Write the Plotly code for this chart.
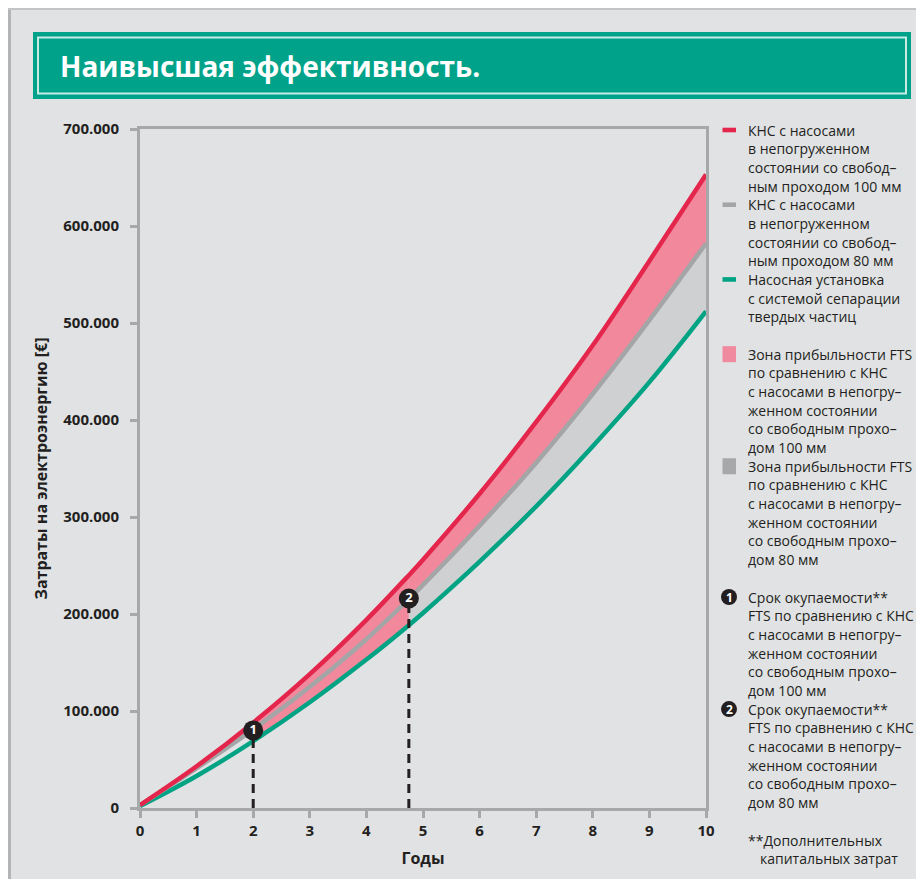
import plotly.graph_objects as go

# ---------------- data ----------------
years = [0, 1, 2, 3, 4, 4.75, 5, 6, 7, 8, 9, 10]
kns_100 = [3000, 43000, 88000, 138000, 194000, 240000, 256000, 324000, 398000, 477000, 564000, 653000]
kns_80 = [3000, 41000, 81000, 125000, 174000, 215500, 230000, 291000, 356000, 427000, 503000, 582000]
fts = [2000, 33000, 69000, 109000, 153000, 188500, 201000, 254000, 311000, 373000, 439000, 512000]

payback_years = [2, 4.75]
payback_values = [80000, 216000]
payback_labels = ["1", "2"]

x_ticks = [0, 1, 2, 3, 4, 5, 6, 7, 8, 9, 10]
y_ticks = [0, 100000, 200000, 300000, 400000, 500000, 600000, 700000]
y_tick_labels = ["0", "100.000", "200.000", "300.000", "400.000", "500.000", "600.000", "700.000"]

title_text = "Наивысшая эффективность."
x_title = "Годы"
y_title = "Затраты на электроэнергию [€]"

legend_red = ["КНС с насосами", "в непогруженном", "состоянии со свобод–", "ным проходом 100 мм"]
legend_gray = ["КНС с насосами", "в непогруженном", "состоянии со свобод–", "ным проходом 80 мм"]
legend_green = ["Насосная установка", "с системой сепарации", "твердых частиц"]
legend_zone100 = ["Зона прибыльности FTS", "по сравнению с КНС", "с насосами в непогру–",
                  "женном состоянии", "со свободным прохо–", "дом 100 мм"]
legend_zone80 = ["Зона прибыльности FTS", "по сравнению с КНС", "с насосами в непогру–",
                 "женном состоянии", "со свободным прохо–", "дом 80 мм"]
legend_pb1 = ["Срок окупаемости**", "FTS по сравнению с КНС", "с насосами в непогру–",
              "женном состоянии", "со свободным прохо–", "дом 100 мм"]
legend_pb2 = ["Срок окупаемости**", "FTS по сравнению с КНС", "с насосами в непогру–",
              "женном состоянии", "со свободным прохо–", "дом 80 мм"]
footnote = ["**Дополнительных", "капитальных затрат"]

# ---------------- styles ----------------
RED = "#e4254c"
GRAY = "#a4a5a7"
GREEN = "#00a383"
PINK = "#f2889c"
GRAYFILL = "#cfd0d2"
BG = "#e1e2e4"
AXIS = "#a7a8aa"
TXT = "#231f20"
FONT = "Open Sans"

OFF = 8  # page margin of the browser body
W, H = 924, 879
# plot area in screen pixels
SL, SR, ST, SB = 140, 706, 129, 808
L, R, T, B = SL - OFF, SR - OFF, ST - OFF, SB - OFF


def px(x):  # screen x -> paper fraction
    return (x - SL) / (SR - SL)


def py(y):  # screen y -> paper fraction
    return (SB - y) / (SB - ST)


def seg(arr, lo, hi):
    idx = [i for i, v in enumerate(years) if lo <= v <= hi]
    return [years[i] for i in idx], [arr[i] for i in idx]


fig = go.Figure()


def band(lower, upper, lo, hi, color):
    xl, yl = seg(lower, lo, hi)
    xu, yu = seg(upper, lo, hi)
    fig.add_trace(go.Scatter(x=xl, y=yl, mode="lines", line=dict(width=0, shape="spline", color=color),
                             showlegend=False, hoverinfo="skip"))
    fig.add_trace(go.Scatter(x=xu, y=yu, mode="lines", line=dict(width=0, shape="spline", color=color),
                             fill="tonexty", fillcolor=color, showlegend=False, hoverinfo="skip"))


band(kns_80, kns_100, 0, payback_years[0], PINK)
band(fts, kns_100, payback_years[0], payback_years[1], PINK)
band(fts, kns_80, payback_years[1], 10, GRAYFILL)
band(kns_80, kns_100, payback_years[1], 10, PINK)

for arr, col in [(fts, GREEN), (kns_80, GRAY), (kns_100, RED)]:
    fig.add_trace(go.Scatter(x=years, y=arr, mode="lines", line=dict(color=col, width=4.5, shape="spline"),
                             showlegend=False, hoverinfo="skip"))

for xv, yv in zip(payback_years, payback_values):
    fig.add_trace(go.Scatter(x=[xv, xv], y=[0, yv], mode="lines",
                             line=dict(color=TXT, width=3, dash="9px,6px"),
                             showlegend=False, hoverinfo="skip"))

fig.add_trace(go.Scatter(x=payback_years, y=payback_values, mode="markers+text", text=payback_labels,
                         textposition="middle center",
                         textfont=dict(color="white", size=13, family=FONT, weight="bold"),
                         marker=dict(size=20, color=TXT, line=dict(width=0)),
                         showlegend=False, hoverinfo="skip"))

shapes = []
ann = []

# shadowed card edges (left and top of the figure)
shapes.append(dict(type="line", xref="paper", yref="paper", x0=px(9.5), x1=px(9.5), y0=py(8), y1=py(H + 20),
                   line=dict(color="#b3b4b6", width=3), layer="below"))
shapes.append(dict(type="line", xref="paper", yref="paper", x0=px(8), x1=px(W + 20), y0=py(9), y1=py(9),
                   line=dict(color="#c3c4c6", width=2), layer="below"))

# title box
shapes.append(dict(type="rect", xref="paper", yref="paper", x0=px(33), x1=px(911), y0=py(32), y1=py(99),
                   fillcolor="#00a38a", line=dict(width=0)))
shapes.append(dict(type="rect", xref="paper", yref="paper", x0=px(38), x1=px(906), y0=py(37.5), y1=py(93.5),
                   fillcolor="rgba(0,0,0,0)", line=dict(color="#c8ebe3", width=2)))
ann.append(dict(text="<b>" + title_text + "</b>", xref="paper", yref="paper", x=px(58), y=py(66),
                xanchor="left", yanchor="middle", showarrow=False,
                font=dict(family=FONT, size=28, color="white")))

# legend
LX = 746
LH = 18.68


def line_y(n):
    return 130 + LH * n


blocks = [(legend_red, 0), (legend_gray, 4), (legend_green, 8), (legend_zone100, 12),
          (legend_zone80, 18), (legend_pb1, 25), (legend_pb2, 31)]
for lines, start in blocks:
    for i, t in enumerate(lines):
        ann.append(dict(text=t, xref="paper", yref="paper", x=px(LX), y=py(line_y(start + i)),
                        xanchor="left", yanchor="middle", showarrow=False,
                        font=dict(family=FONT, size=14, color=TXT)))
ann.append(dict(text=footnote[0], xref="paper", yref="paper", x=px(LX), y=py(840),
                xanchor="left", yanchor="middle", showarrow=False, font=dict(family=FONT, size=14, color=TXT)))
ann.append(dict(text=footnote[1], xref="paper", yref="paper", x=px(LX + 12), y=py(858),
                xanchor="left", yanchor="middle", showarrow=False, font=dict(family=FONT, size=14, color=TXT)))

# legend swatches
for start, col in [(0, RED), (4, GRAY), (8, GREEN)]:
    yc = line_y(start)
    shapes.append(dict(type="rect", xref="paper", yref="paper", x0=px(722.5), x1=px(736), y0=py(yc - 2.3),
                       y1=py(yc + 2.3), fillcolor=col, line=dict(width=0)))
for start, col in [(12, "#f08a9e"), (18, "#a7a8aa")]:
    yc = line_y(start)
    shapes.append(dict(type="rect", xref="paper", yref="paper", x0=px(722.5), x1=px(736), y0=py(yc - 8),
                       y1=py(yc + 8), fillcolor=col, line=dict(width=0)))
for start, lab in [(25, "1"), (31, "2")]:
    yc = line_y(start)
    shapes.append(dict(type="circle", xref="paper", yref="paper", x0=px(721), x1=px(737), y0=py(yc - 8),
                       y1=py(yc + 8), fillcolor=TXT, line=dict(width=0)))
    ann.append(dict(text="<b>" + lab + "</b>", xref="paper", yref="paper", x=px(729), y=py(yc),
                    xanchor="center", yanchor="middle", showarrow=False,
                    font=dict(family=FONT, size=12, color="white")))

fig.update_layout(
    width=W, height=H,
    margin=dict(l=L, r=W - R, t=T, b=H - B, pad=0),
    paper_bgcolor=BG, plot_bgcolor=BG,
    shapes=shapes, annotations=ann,
    showlegend=False,
    font=dict(family=FONT, color=TXT),
)
fig.update_xaxes(range=[0, 10], tickvals=x_ticks, ticktext=[str(v) for v in x_ticks],
                 showgrid=False, zeroline=False, showline=True, mirror=True,
                 linecolor=AXIS, linewidth=3, ticks="outside", ticklen=7, tickwidth=3, tickcolor=AXIS,
                 tickfont=dict(family=FONT, size=15, color=TXT, weight="bold"),
                 title=dict(text="<b>" + x_title + "</b>", font=dict(family=FONT, size=16, color=TXT), standoff=14))
fig.update_yaxes(range=[0, 700000], tickvals=y_ticks, ticktext=y_tick_labels,
                 showgrid=False, zeroline=False, showline=True, mirror=True,
                 linecolor=AXIS, linewidth=3, ticks="outside", ticklen=7, tickwidth=3, tickcolor=AXIS,
                 ticklabelstandoff=8,
                 tickfont=dict(family=FONT, size=15, color=TXT, weight="bold"),
                 title=dict(text="<b>" + y_title + "</b>", font=dict(family=FONT, size=16, color=TXT), standoff=12))

fig.write_html("out.html")
